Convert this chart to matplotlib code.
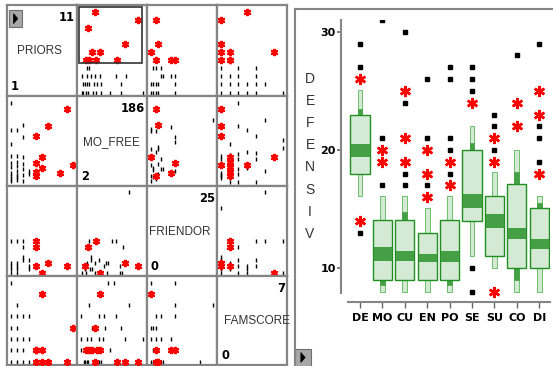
import numpy as np
import matplotlib.pyplot as plt
from matplotlib.patches import Rectangle, Polygon
from matplotlib.lines import Line2D

W, H = 553, 366

# ---- scatterplot matrix data ----
names = ['PRIORS', 'MO_FREE', 'FRIENDOR', 'FAMSCORE']
vmin = [1, 2, 0, 0]
vmax = [11, 186, 25, 7]

# (priors, mo_free)
pri_mo_black = [(1, 5), (1, 10), (1, 18), (1, 25), (1, 38), (1, 47), (1, 62), (1, 90), (1, 122), (1, 186),
                (2, 8), (2, 14), (2, 20), (2, 28), (2, 40), (2, 50), (2, 62), (2, 122),
                (3, 5), (3, 20), (3, 32), (3, 45), (3, 60), (3, 106), (3, 135),
                (4, 22), (4, 28)]
pri_mo_red = [(11, 43), (9, 23), (10, 171), (7, 133), (6, 36), (6, 60), (5, 18), (5, 26), (5, 46), (5, 110)]

# (priors, friendor)
pri_fr_black = [(1, 0), (1, 1), (1, 2), (1, 3), (1, 10), (2, 0), (2, 1), (2, 2), (2, 3), (2, 10),
                (3, 4), (3, 5), (3, 8), (3, 10), (4, 1), (4, 2), (4, 4)]
pri_fr_red = [(10, 2), (7, 3), (6, 0), (5, 2), (5, 8), (5, 10)]

# (priors, famscore)
pri_fam_black = [(1, 0), (1, 1), (1, 2), (1, 3), (1, 4), (1, 7), (2, 0), (2, 1), (2, 2), (2, 3), (2, 4), (2, 5),
                 (3, 0), (3, 1), (3, 2), (3, 4), (4, 0), (4, 2), (4, 4)]
pri_fam_red = [(11, 3), (10, 0), (7, 0), (6, 0), (6, 1), (6, 6), (5, 0), (5, 1), (5, 1)]

# (mo_free, friendor)
mo_fr_black = [(146, 25), (28, 10), (96, 10), (107, 10), (129, 8), (120, 0), (120, 2), (84, 3), (72, 2),
               (79, 0), (55, 4), (45, 3), (43, 0), (35, 1), (30, 1), (33, 4), (33, 5), (22, 3), (10, 2),
               (6, 0), (14, 1), (18, 0), (126, 0), (78, 3), (62, 0)]
mo_fr_red = [(171, 2), (134, 3), (60, 0), (46, 10), (24, 8), (16, 2)]

# (mo_free, famscore)
mo_fam_black = [(82, 7), (100, 7), (28, 5), (146, 5), (3, 4), (55, 4), (70, 4), (108, 4),
                (35, 3), (45, 3), (73, 3), (122, 3), (3, 2), (22, 2), (33, 2), (57, 2), (67, 2), (133, 2), (186, 2),
                (3, 1), (15, 1), (38, 1), (48, 1), (65, 1), (90, 1),
                (12, 0), (16, 0), (20, 0), (24, 0), (42, 0), (57, 0), (62, 0)]
mo_fam_red = [(171, 0), (133, 0), (110, 0), (43, 0), (60, 1), (50, 1), (37, 1), (26, 1), (18, 1), (43, 3), (60, 6)]

# (friendor, famscore)
fr_fam_black = [(0, 7), (10, 7), (10, 5), (25, 5), (2, 4), (4, 4), (10, 4), (0, 3), (1, 3), (2, 3),
                (0, 2), (2, 2), (4, 2), (8, 2), (1, 1), (3, 1), (0, 0), (1, 0), (4, 0), (5, 0), (20, 0)]
fr_fam_red = [(0, 6), (8, 1), (10, 1), (2, 0), (3, 0), (2, 1)]

pairs = {(0, 1): (pri_mo_black, pri_mo_red), (0, 2): (pri_fr_black, pri_fr_red),
         (0, 3): (pri_fam_black, pri_fam_red), (1, 2): (mo_fr_black, mo_fr_red),
         (1, 3): (mo_fam_black, mo_fam_red), (2, 3): (fr_fam_black, fr_fam_red)}

# ---- boxplot data (DEFENSIV by group) ----
groups = ['DE', 'MO', 'CU', 'EN', 'PO', 'SE', 'SU', 'CO', 'DI']
whisk_lo = [16.1, 8.0, 8.0, 8.0, 8.0, 11.0, 10.0, 8.0, 8.0]
q1 = [18.0, 9.0, 9.0, 9.0, 9.0, 14.0, 11.0, 10.0, 10.0]
med_lo = [19.5, 10.7, 10.7, 10.6, 10.6, 15.2, 13.5, 12.6, 11.7]
med_hi = [20.5, 11.8, 11.5, 11.2, 11.5, 16.3, 14.6, 13.4, 12.5]
q3 = [23.0, 14.1, 14.1, 13.0, 14.1, 20.0, 16.1, 17.1, 15.1]
whisk_hi = [25.1, 16.1, 16.1, 15.1, 16.1, 22.0, 18.1, 20.0, 16.1]
out_black = [[29, 27, 13], [31, 21, 17], [30, 24, 19, 18, 17], [26, 21, 17], [27, 26, 21, 20, 18],
             [27, 26, 25, 10, 8], [23, 22, 20], [28], [29, 22, 21, 19]]
out_red = [[26, 14], [20, 19], [25, 21, 19], [20, 18, 16], [19, 17], [24], [21, 19, 8], [24, 22], [25, 23, 18]]
# darker whisker pieces (group index, low, high)
dark_bits = [(0, 23.0, 23.5), (1, 8.6, 9.0), (2, 14.1, 14.8), (4, 8.6, 9.0), (5, 20.0, 20.6),
             (7, 17.1, 18.1), (7, 9.0, 10.0), (8, 15.1, 15.5)]

fig = plt.figure(figsize=(W / 100, H / 100), dpi=100)


def fx(x):
    return x / W


def fy(y):
    return 1 - y / H


def px_axes(x0, y0, x1, y1):
    return fig.add_axes([x0 / W, 1 - y1 / H, (x1 - x0) / W, (y1 - y0) / H])


def lims(k, lo_px, hi_px, span):
    a = lo_px / span
    b = 1 - hi_px / span
    rng = (vmax[k] - vmin[k]) / (b - a)
    lo = vmin[k] - a * rng
    return lo, lo + rng


col_edges = [7, 77, 147, 217, 287]
row_edges = [5, 96, 186, 276, 365]
name_x = [0.14, 0.09, 0.03, 0.10]
grey = '#858585'
star = (6, 2, 0)

for r in range(4):
    for c in range(4):
        x0, x1 = col_edges[c], col_edges[c + 1]
        y0, y1 = row_edges[r], row_edges[r + 1]
        ax = px_axes(x0, y0, x1, y1)
        ax.set_xlim(*lims(c, 3.7, 4.3, x1 - x0))
        ax.set_ylim(*lims(r, 3.5, 6.5, y1 - y0))
        ax.set_xticks([])
        ax.set_yticks([])
        for sp in ax.spines.values():
            sp.set_color(grey)
            sp.set_linewidth(1.6)
        if r == c:
            ax.text(name_x[r], 0.49, names[r], transform=ax.transAxes, ha='left', va='center',
                    fontsize=8.5, color='#333333', family='Liberation Sans')
            ax.text(1 - 2 / 70, 1 - 12.5 / 90, str(vmax[r]), transform=ax.transAxes, ha='right',
                    va='center', fontsize=8.3, fontweight='bold', family='DejaVu Sans')
            ax.text(4 / 70, 9.5 / 90, str(vmin[r]), transform=ax.transAxes, ha='left',
                    va='center', fontsize=8.3, fontweight='bold', family='DejaVu Sans')
            continue
        i, j = min(r, c), max(r, c)
        blk, red = pairs[(i, j)]
        blk = np.array(blk, dtype=float)
        red = np.array(red, dtype=float)
        if r < c:
            bx, by, rx, ry = blk[:, 1], blk[:, 0], red[:, 1], red[:, 0]
        else:
            bx, by, rx, ry = blk[:, 0], blk[:, 1], red[:, 0], red[:, 1]
        ax.plot(bx, by, '|', color='black', ms=3.2, mew=1.0, zorder=2)
        ax.plot(rx, ry, marker=star, ls='none', color='red', ms=5.2, mew=1.6, zorder=3)
        if (r, c) == (0, 1):
            ax.add_patch(Rectangle((2 / 70, 0.36), (142.3 - 79) / 70, 0.615, transform=ax.transAxes,
                                   fill=False, edgecolor='#333333', lw=1.2, zorder=4))

# ---- boxplot panel ----
bx_ax = px_axes(340.7, 20, 550, 301.7)
bx_ax.set_xlim(-0.862, 8.482)
bx_ax.set_ylim(7.177, 30.99)
pos = np.arange(len(groups))
box_fill = '#d4ead4'
box_edge = '#1f8f1f'
band = '#45a045'

bx_ax.bar(pos, np.array(whisk_hi) - np.array(whisk_lo), bottom=whisk_lo, width=0.22,
          color=box_fill, edgecolor='#6cbf6c', lw=0.7, zorder=1)
for g, lo, hi in dark_bits:
    bx_ax.bar(pos[g], hi - lo, bottom=lo, width=0.22, color=band, edgecolor=band, lw=0.5, zorder=1.5)
bx_ax.bar(pos, np.array(q3) - np.array(q1), bottom=q1, width=0.85,
          color=box_fill, edgecolor=box_edge, lw=1.0, zorder=2)
bx_ax.bar(pos, np.array(med_hi) - np.array(med_lo), bottom=med_lo, width=0.85,
          color=band, edgecolor=box_edge, lw=0.5, zorder=3)
for k in range(len(groups)):
    bx_ax.plot([pos[k]] * len(out_black[k]), out_black[k], 's', color='black', ms=2.3, zorder=4)
    bx_ax.plot([pos[k]] * len(out_red[k]), out_red[k], marker=star, ls='none', color='red',
               ms=8, mew=1.8, zorder=5)

for s in ['top', 'right']:
    bx_ax.spines[s].set_visible(False)
for s in ['left', 'bottom']:
    bx_ax.spines[s].set_color(grey)
    bx_ax.spines[s].set_linewidth(1.5)
bx_ax.spines['left'].set_bounds(7.9, 30.99)
bx_ax.spines['bottom'].set_bounds(-0.54, 8.482)
bx_ax.set_yticks([10, 20, 30])
bx_ax.set_xticks(pos)
bx_ax.set_xticklabels(groups)
bx_ax.tick_params(axis='y', length=3, width=1.2, color='#666666', pad=0.5)
bx_ax.tick_params(axis='x', length=4, width=1.0, color='#666666', pad=4)
for lab in bx_ax.get_xticklabels() + bx_ax.get_yticklabels():
    lab.set_fontweight('bold')
    lab.set_fontsize(8)
    lab.set_family('DejaVu Sans')

for k, letter in enumerate('DEFENSIV'):
    fig.text(fx(310), fy(79 + k * 22.1), letter, ha='center', va='center', fontsize=10,
             color='#333333', family='Liberation Sans')

# panel frame
fig.add_artist(Line2D([fx(295), fx(295)], [fy(9.3), fy(366)], color=grey, lw=1.5))
fig.add_artist(Line2D([fx(295), fx(553)], [fy(9.3), fy(9.3)], color=grey, lw=1.5))


# buttons
def button(x0, y0, x1, y1):
    fig.add_artist(Rectangle((fx(x0), fy(y1)), (x1 - x0) / W, (y1 - y0) / H,
                             facecolor='#a8a8a8', edgecolor='#6e6e6e', lw=0.8))
    cx = (x0 + x1) / 2
    cy = (y0 + y1) / 2
    fig.add_artist(Polygon([(fx(cx - 2), fy(cy - 5)), (fx(cx - 2), fy(cy + 5)), (fx(cx + 2.3), fy(cy))],
                           closed=True, facecolor='black', edgecolor='black', lw=0.5))


button(9.3, 10, 21.7, 27.3)
button(295, 349, 310.7, 366)

fig.savefig('out.png', dpi=100)
